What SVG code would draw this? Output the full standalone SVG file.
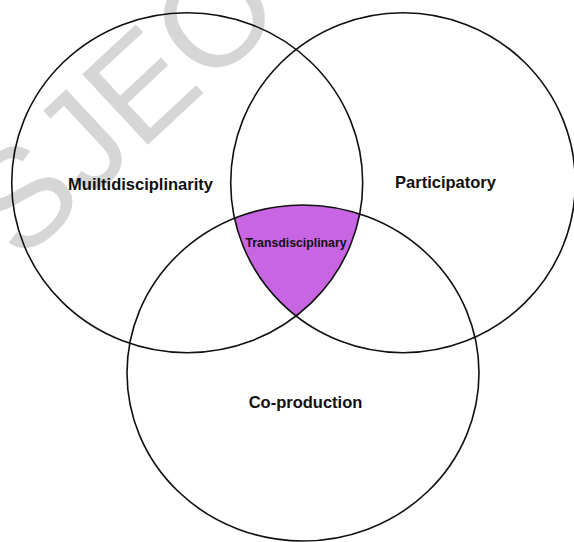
<svg xmlns="http://www.w3.org/2000/svg" width="574" height="542" viewBox="0 0 574 542">
  <style>
    .ring { fill: none; stroke: #111; stroke-width: 1.6; }
    .label { font-family: "Liberation Sans", Arial, sans-serif; font-weight: bold; fill: #111; text-anchor: middle; }
    .mark { font-family: "Liberation Sans", Arial, sans-serif; fill: #d6d6d6; }
  </style>
  <defs>
    <clipPath id="clipLeft">
      <ellipse cx="187.2" cy="182.7" rx="175.5" ry="170"/>
    </clipPath>
    <clipPath id="clipRight">
      <ellipse cx="403" cy="182.7" rx="172.3" ry="170"/>
    </clipPath>
  </defs>
  <rect width="574" height="542" fill="#ffffff"/>

  <!-- faint watermark lettering -->
  <text class="mark" font-size="140" transform="translate(20,264) rotate(-43)">SJEO</text>

  <!-- shared region of all three sets -->
  <g id="overlap">
    <g clip-path="url(#clipLeft)">
      <g clip-path="url(#clipRight)">
        <ellipse cx="303" cy="373" rx="176" ry="168" fill="#c865e2"/>
      </g>
    </g>
  </g>

  <g id="multidisciplinarity">
    <ellipse class="ring" cx="187.2" cy="182.7" rx="175.5" ry="170"/>
    <text class="label" x="140.5" y="190" font-size="16.5">Muiltidisciplinarity</text>
  </g>

  <g id="participatory">
    <ellipse class="ring" cx="403" cy="182.7" rx="172.3" ry="170"/>
    <text class="label" x="445.5" y="188" font-size="16.5">Participatory</text>
  </g>

  <g id="coproduction">
    <ellipse class="ring" cx="303" cy="373" rx="176" ry="168"/>
    <text class="label" x="305.5" y="408" font-size="16.5">Co-production</text>
  </g>

  <g id="transdisciplinary">
    <text class="label" x="296" y="246.5" font-size="12.3">Transdisciplinary</text>
  </g>
</svg>
